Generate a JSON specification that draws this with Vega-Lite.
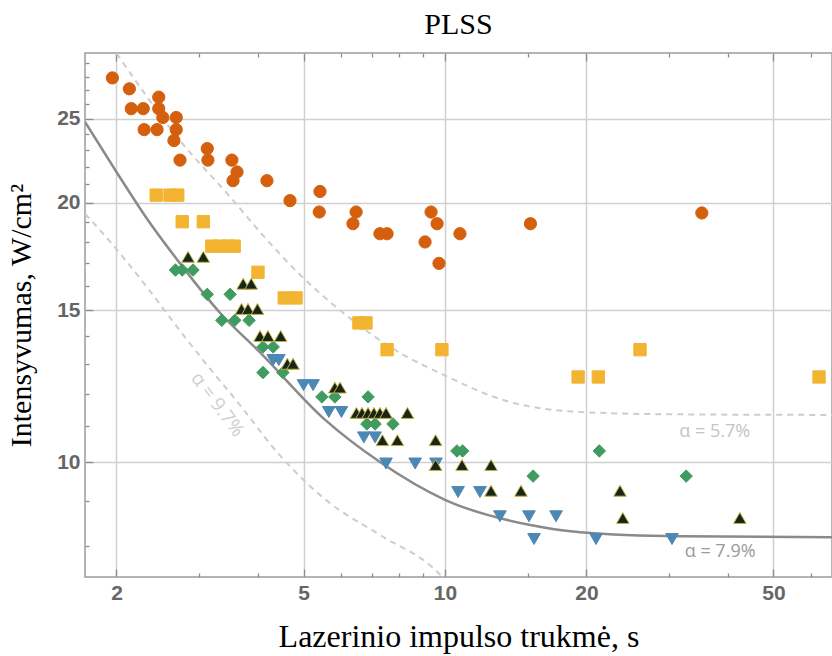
{
  "$schema": "https://vega.github.io/schema/vega-lite/v6.json",
  "width": 747,
  "height": 524,
  "autosize": {"type": "none"},
  "padding": {"left": 85, "top": 53, "right": 0, "bottom": 79},
  "background": "white",
  "title": {"text": "PLSS", "font": "Liberation Serif", "fontSize": 30, "fontWeight": "normal", "color": "#000000", "offset": 12},
  "config": {"view": {"stroke": "#9c9c9c", "strokeWidth": 1.5}},
  "datasets": {
    "curves": [
      {"c": "s", "t": 1.714, "I": 24.8}, {"c": "s", "t": 2.0, "I": 21.7}, {"c": "s", "t": 2.33, "I": 19.1},
      {"c": "s", "t": 2.73, "I": 17.0}, {"c": "s", "t": 3.32, "I": 14.9}, {"c": "s", "t": 4.04, "I": 13.4},
      {"c": "s", "t": 5.56, "I": 11.19}, {"c": "s", "t": 7.27, "I": 10.0}, {"c": "s", "t": 10, "I": 9.04},
      {"c": "s", "t": 15.2, "I": 8.45}, {"c": "s", "t": 19.4, "I": 8.29}, {"c": "s", "t": 31.6, "I": 8.2},
      {"c": "s", "t": 66.6, "I": 8.18},
      {"c": "u", "t": 2.0, "I": 29.8}, {"c": "u", "t": 2.73, "I": 23.6}, {"c": "u", "t": 3.49, "I": 20.3},
      {"c": "u", "t": 4.18, "I": 18.1}, {"c": "u", "t": 4.91, "I": 16.5}, {"c": "u", "t": 6.07, "I": 14.9},
      {"c": "u", "t": 7.64, "I": 13.6}, {"c": "u", "t": 10, "I": 12.6}, {"c": "u", "t": 13.3, "I": 11.8},
      {"c": "u", "t": 19.4, "I": 11.43}, {"c": "u", "t": 30, "I": 11.36}, {"c": "u", "t": 66.6, "I": 11.34},
      {"c": "l", "t": 1.714, "I": 19.4}, {"c": "l", "t": 1.845, "I": 18.58}, {"c": "l", "t": 2.32, "I": 15.96},
      {"c": "l", "t": 2.73, "I": 14.2}, {"c": "l", "t": 3.056, "I": 13.13}, {"c": "l", "t": 3.66, "I": 11.65},
      {"c": "l", "t": 4.39, "I": 10.27}, {"c": "l", "t": 5.69, "I": 8.96}, {"c": "l", "t": 7.27, "I": 8.23},
      {"c": "l", "t": 9.76, "I": 7.4}, {"c": "l", "t": 10.2, "I": 7.2}
    ],
    "pts": [
      {"g": "A", "t": 1.96, "I": 27.9}, {"g": "A", "t": 2.13, "I": 27.1}, {"g": "A", "t": 2.15, "I": 25.7},
      {"g": "A", "t": 2.28, "I": 25.7}, {"g": "A", "t": 2.46, "I": 26.5}, {"g": "A", "t": 2.46, "I": 25.7},
      {"g": "A", "t": 2.51, "I": 25.1}, {"g": "A", "t": 2.68, "I": 25.1}, {"g": "A", "t": 2.68, "I": 24.3},
      {"g": "A", "t": 2.65, "I": 23.6}, {"g": "A", "t": 2.29, "I": 24.3}, {"g": "A", "t": 2.44, "I": 24.3},
      {"g": "A", "t": 2.73, "I": 22.4}, {"g": "A", "t": 3.12, "I": 23.1}, {"g": "A", "t": 3.13, "I": 22.4},
      {"g": "A", "t": 3.52, "I": 22.4}, {"g": "A", "t": 3.61, "I": 21.7}, {"g": "A", "t": 3.54, "I": 21.2},
      {"g": "A", "t": 4.18, "I": 21.2}, {"g": "A", "t": 4.68, "I": 20.1}, {"g": "A", "t": 5.42, "I": 20.6},
      {"g": "A", "t": 5.4, "I": 19.5}, {"g": "A", "t": 6.47, "I": 19.5}, {"g": "A", "t": 6.37, "I": 18.9},
      {"g": "A", "t": 7.27, "I": 18.4}, {"g": "A", "t": 7.53, "I": 18.4}, {"g": "A", "t": 9.34, "I": 19.5},
      {"g": "A", "t": 9.62, "I": 18.9}, {"g": "A", "t": 9.07, "I": 18.0}, {"g": "A", "t": 9.71, "I": 17.0},
      {"g": "A", "t": 10.76, "I": 18.4}, {"g": "A", "t": 15.2, "I": 18.9}, {"g": "A", "t": 35.2, "I": 19.45},
      {"g": "B", "t": 2.43, "I": 20.4}, {"g": "B", "t": 2.6, "I": 20.4}, {"g": "B", "t": 2.7, "I": 20.4},
      {"g": "B", "t": 2.76, "I": 19.0}, {"g": "B", "t": 3.06, "I": 19.0}, {"g": "B", "t": 3.19, "I": 17.8},
      {"g": "B", "t": 3.32, "I": 17.8}, {"g": "B", "t": 3.45, "I": 17.8}, {"g": "B", "t": 3.56, "I": 17.8},
      {"g": "B", "t": 4.0, "I": 16.6}, {"g": "B", "t": 4.55, "I": 15.5}, {"g": "B", "t": 4.82, "I": 15.5},
      {"g": "B", "t": 6.56, "I": 14.5}, {"g": "B", "t": 6.79, "I": 14.5}, {"g": "B", "t": 7.53, "I": 13.5},
      {"g": "B", "t": 9.85, "I": 13.5}, {"g": "B", "t": 19.2, "I": 12.55}, {"g": "B", "t": 21.2, "I": 12.55},
      {"g": "B", "t": 26.0, "I": 13.5}, {"g": "B", "t": 62.5, "I": 12.55},
      {"g": "C", "t": 2.67, "I": 16.7}, {"g": "C", "t": 2.76, "I": 16.7}, {"g": "C", "t": 2.91, "I": 16.7},
      {"g": "C", "t": 3.12, "I": 15.65}, {"g": "C", "t": 3.49, "I": 15.65}, {"g": "C", "t": 3.35, "I": 14.6},
      {"g": "C", "t": 3.57, "I": 14.6}, {"g": "C", "t": 3.83, "I": 14.6}, {"g": "C", "t": 4.1, "I": 13.6},
      {"g": "C", "t": 4.31, "I": 13.6}, {"g": "C", "t": 4.1, "I": 12.7}, {"g": "C", "t": 4.52, "I": 12.7},
      {"g": "C", "t": 5.47, "I": 11.9}, {"g": "C", "t": 5.83, "I": 11.9}, {"g": "C", "t": 6.86, "I": 11.9},
      {"g": "C", "t": 6.82, "I": 11.07}, {"g": "C", "t": 7.1, "I": 11.07}, {"g": "C", "t": 7.75, "I": 11.07},
      {"g": "C", "t": 10.6, "I": 10.3}, {"g": "C", "t": 10.9, "I": 10.3}, {"g": "C", "t": 15.4, "I": 9.63},
      {"g": "C", "t": 21.3, "I": 10.3}, {"g": "C", "t": 32.6, "I": 9.63},
      {"g": "E", "t": 4.31, "I": 13.13}, {"g": "E", "t": 4.43, "I": 13.13}, {"g": "E", "t": 5.0, "I": 12.28},
      {"g": "E", "t": 5.24, "I": 12.28}, {"g": "E", "t": 5.66, "I": 11.43}, {"g": "E", "t": 6.02, "I": 11.43},
      {"g": "E", "t": 6.72, "I": 10.68}, {"g": "E", "t": 7.1, "I": 10.68}, {"g": "E", "t": 7.49, "I": 9.96},
      {"g": "E", "t": 8.64, "I": 9.96}, {"g": "E", "t": 9.57, "I": 9.96}, {"g": "E", "t": 10.66, "I": 9.23},
      {"g": "E", "t": 11.87, "I": 9.23}, {"g": "E", "t": 13.09, "I": 8.65}, {"g": "E", "t": 15.09, "I": 8.65},
      {"g": "E", "t": 17.23, "I": 8.65}, {"g": "E", "t": 15.47, "I": 8.14}, {"g": "E", "t": 20.96, "I": 8.14},
      {"g": "E", "t": 30.41, "I": 8.14},
      {"g": "D", "t": 2.84, "I": 17.3}, {"g": "D", "t": 3.06, "I": 17.3}, {"g": "D", "t": 3.72, "I": 16.1},
      {"g": "D", "t": 3.87, "I": 16.1}, {"g": "D", "t": 3.69, "I": 15.05}, {"g": "D", "t": 3.81, "I": 15.05},
      {"g": "D", "t": 3.99, "I": 15.05}, {"g": "D", "t": 4.04, "I": 14.0}, {"g": "D", "t": 4.2, "I": 14.0},
      {"g": "D", "t": 4.47, "I": 14.0}, {"g": "D", "t": 4.62, "I": 13.0}, {"g": "D", "t": 4.75, "I": 13.0},
      {"g": "D", "t": 5.83, "I": 12.2}, {"g": "D", "t": 5.98, "I": 12.2}, {"g": "D", "t": 6.48, "I": 11.4},
      {"g": "D", "t": 6.66, "I": 11.4}, {"g": "D", "t": 6.86, "I": 11.4}, {"g": "D", "t": 7.06, "I": 11.4},
      {"g": "D", "t": 7.27, "I": 11.4}, {"g": "D", "t": 7.49, "I": 11.4}, {"g": "D", "t": 8.32, "I": 11.4},
      {"g": "D", "t": 7.36, "I": 10.6}, {"g": "D", "t": 7.92, "I": 10.6}, {"g": "D", "t": 9.55, "I": 10.6},
      {"g": "D", "t": 9.55, "I": 9.92}, {"g": "D", "t": 10.87, "I": 9.92}, {"g": "D", "t": 12.53, "I": 9.92},
      {"g": "D", "t": 12.53, "I": 9.26}, {"g": "D", "t": 14.51, "I": 9.26}, {"g": "D", "t": 23.57, "I": 9.26},
      {"g": "D", "t": 23.9, "I": 8.61}, {"g": "D", "t": 42.4, "I": 8.61}
    ],
    "labels": [
      {"k": "a", "txt": "α = 5.7%", "t": 37.5, "I": 10.83},
      {"k": "b", "txt": "α = 7.9%", "t": 38.5, "I": 7.86},
      {"k": "c", "txt": "α = 9.7%", "t": 3.28, "I": 11.66}
    ]
  },
  "resolve": {"axis": {"x": "independent", "y": "independent"}},
  "layer": [
    {
      "data": {"name": "curves"},
      "transform": [{"filter": "datum.c == 's'"}],
      "mark": {"type": "line", "clip": true, "interpolate": "monotone", "color": "#8a8a8a", "strokeWidth": 2.5},
      "encoding": {
        "x": {
          "field": "t", "type": "quantitative",
          "scale": {"type": "log", "domain": [1.714, 66.6], "nice": false},
          "axis": {
            "orient": "bottom",
            "values": [2, 3, 4, 5, 6, 7, 8, 9, 10, 15, 20, 30, 40, 50, 60],
            "labelExpr": "indexof([2,5,10,20,50], datum.value) >= 0 ? '' + datum.value : ''",
            "labelOverlap": false,
            "labelFont": "Liberation Sans Narrow, Liberation Sans",
            "labelFontWeight": "bold",
            "labelFontSize": 21,
            "labelColor": "#666666",
            "labelPadding": 13,
            "tickSize": {"condition": {"test": "indexof([2,5,10,20,50], datum.value) >= 0", "value": -8}, "value": -4},
            "tickColor": "#8c8c8c",
            "tickWidth": 1.3,
            "grid": true,
            "gridColor": "#d0d0d0",
            "gridWidth": 1.5,
            "gridOpacity": {"condition": {"test": "indexof([2,5,10,20,50], datum.value) >= 0", "value": 1}, "value": 0},
            "domain": false,
            "title": "Lazerinio impulso trukmė, s",
            "titleFont": "Liberation Serif",
            "titleFontSize": 32,
            "titleFontWeight": "normal",
            "titleColor": "#000000",
            "titlePadding": 14
          }
        },
        "y": {
          "field": "I", "type": "quantitative",
          "scale": {"type": "log", "domain": [7.355, 29.82], "nice": false},
          "axis": {
            "orient": "left",
            "values": [8, 9, 10, 11, 12, 13, 14, 15, 16, 17, 18, 19, 20, 21, 22, 23, 24, 25, 26, 27, 28, 29],
            "labelExpr": "indexof([10,15,20,25], datum.value) >= 0 ? '' + datum.value : ''",
            "labelOverlap": false,
            "labelFont": "Liberation Sans Narrow, Liberation Sans",
            "labelFontWeight": "bold",
            "labelFontSize": 21,
            "labelColor": "#666666",
            "labelPadding": 13,
            "tickSize": {"condition": {"test": "indexof([10,15,20,25], datum.value) >= 0", "value": -8}, "value": -4},
            "tickColor": "#8c8c8c",
            "tickWidth": 1.3,
            "grid": true,
            "gridColor": "#d0d0d0",
            "gridWidth": 1.5,
            "gridOpacity": {"condition": {"test": "indexof([10,15,20,25], datum.value) >= 0", "value": 1}, "value": 0},
            "domain": false,
            "title": "Intensyvumas, W/cm²",
            "titleFont": "Liberation Serif",
            "titleFontSize": 30,
            "titleFontWeight": "normal",
            "titleColor": "#000000",
            "titlePadding": 20
          }
        }
      }
    },
    {
      "data": {"name": "curves"},
      "transform": [{"filter": "datum.c != 's'"}],
      "mark": {"type": "line", "clip": true, "interpolate": "monotone", "color": "#cdcdcd", "strokeWidth": 2, "strokeDash": [6, 5]},
      "encoding": {
        "detail": {"field": "c", "type": "nominal"},
        "x": {
          "field": "t", "type": "quantitative",
          "scale": {"type": "log", "domain": [1.714, 66.6], "nice": false},
          "axis": {
            "orient": "top",
            "values": [2, 3, 4, 5, 6, 7, 8, 9, 10, 15, 20, 30, 40, 50, 60],
            "labels": false,
            "tickSize": {"condition": {"test": "indexof([2,5,10,20,50], datum.value) >= 0", "value": -8}, "value": -4},
            "tickColor": "#8c8c8c",
            "tickWidth": 1.3,
            "grid": false,
            "domain": false,
            "title": null
          }
        },
        "y": {
          "field": "I", "type": "quantitative",
          "scale": {"type": "log", "domain": [7.355, 29.82], "nice": false},
          "axis": null
        }
      }
    },
    {
      "data": {"name": "pts"},
      "mark": {"type": "point", "filled": true, "opacity": 1, "strokeWidth": 1, "strokeOpacity": 1},
      "encoding": {
        "x": {"field": "t", "type": "quantitative", "scale": {"type": "log", "domain": [1.714, 66.6], "nice": false}, "axis": null},
        "y": {"field": "I", "type": "quantitative", "scale": {"type": "log", "domain": [7.355, 29.82], "nice": false}, "axis": null},
        "shape": {"field": "g", "type": "nominal", "scale": {"domain": ["A", "B", "C", "D", "E"], "range": ["circle", "square", "diamond", "triangle-up", "triangle-down"]}, "legend": null},
        "fill": {"field": "g", "type": "nominal", "scale": {"domain": ["A", "B", "C", "D", "E"], "range": ["#d4600d", "#f2b431", "#3f9b5f", "#16261a", "#4d88b5"]}, "legend": null},
        "stroke": {"field": "g", "type": "nominal", "scale": {"domain": ["A", "B", "C", "D", "E"], "range": ["#d4600d", "#f2b431", "#3f9b5f", "#c2b040", "#4d88b5"]}, "legend": null},
        "size": {"field": "g", "type": "nominal", "scale": {"domain": ["A", "B", "C", "D", "E"], "range": [150, 160, 150, 130, 120]}, "legend": null}
      }
    },
    {
      "data": {"name": "labels"},
      "transform": [{"filter": "datum.k == 'a'"}],
      "mark": {"type": "text", "font": "Open Sans", "fontSize": 18, "color": "#c4c4c4", "align": "center", "baseline": "middle"},
      "encoding": {
        "x": {"field": "t", "type": "quantitative", "scale": {"type": "log", "domain": [1.714, 66.6], "nice": false}, "axis": null},
        "y": {"field": "I", "type": "quantitative", "scale": {"type": "log", "domain": [7.355, 29.82], "nice": false}, "axis": null},
        "text": {"field": "txt"}
      }
    },
    {
      "data": {"name": "labels"},
      "transform": [{"filter": "datum.k == 'b'"}],
      "mark": {"type": "text", "font": "Open Sans", "fontSize": 18, "color": "#9a9a9a", "align": "center", "baseline": "middle"},
      "encoding": {
        "x": {"field": "t", "type": "quantitative", "scale": {"type": "log", "domain": [1.714, 66.6], "nice": false}, "axis": null},
        "y": {"field": "I", "type": "quantitative", "scale": {"type": "log", "domain": [7.355, 29.82], "nice": false}, "axis": null},
        "text": {"field": "txt"}
      }
    },
    {
      "data": {"name": "labels"},
      "transform": [{"filter": "datum.k == 'c'"}],
      "mark": {"type": "text", "font": "Open Sans", "fontSize": 19, "color": "#cfcfcf", "align": "center", "baseline": "middle", "angle": 53},
      "encoding": {
        "x": {"field": "t", "type": "quantitative", "scale": {"type": "log", "domain": [1.714, 66.6], "nice": false}, "axis": null},
        "y": {"field": "I", "type": "quantitative", "scale": {"type": "log", "domain": [7.355, 29.82], "nice": false}, "axis": null},
        "text": {"field": "txt"}
      }
    }
  ]
}
